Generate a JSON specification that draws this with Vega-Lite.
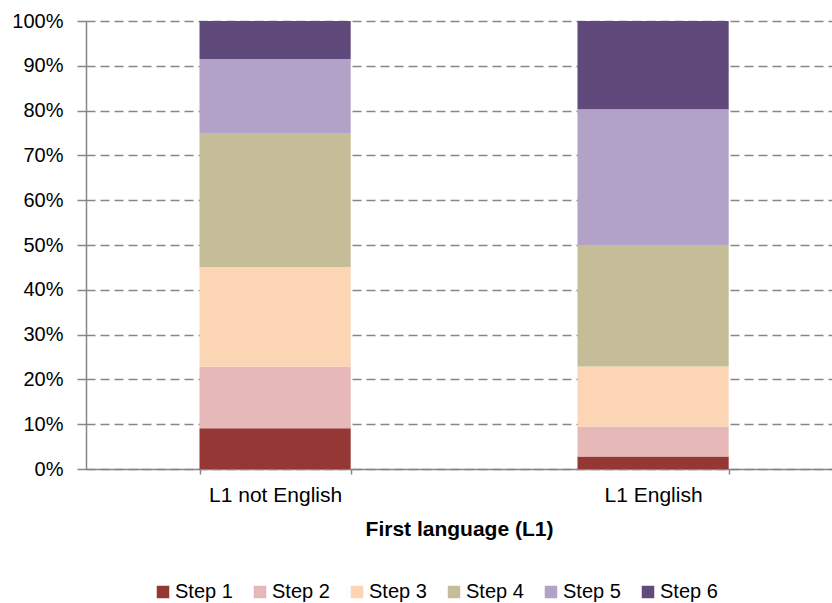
{
  "$schema": "https://vega.github.io/schema/vega-lite/v6.json",
  "autosize": "none",
  "padding": {"left": 86, "top": 21, "right": 0, "bottom": 134},
  "width": 746,
  "height": 448,
  "background": "white",
  "config": {
    "view": {"stroke": null},
    "font": "Liberation Sans",
    "axis": {"labelFont": "Liberation Sans", "titleFont": "Liberation Sans", "labelColor": "#000", "titleColor": "#000"}
  },
  "data": {
    "values": [
      {"language": "L1 not English", "Step": "Step 1", "pct": 9.1},
      {"language": "L1 not English", "Step": "Step 2", "pct": 13.7},
      {"language": "L1 not English", "Step": "Step 3", "pct": 22.3},
      {"language": "L1 not English", "Step": "Step 4", "pct": 29.9},
      {"language": "L1 not English", "Step": "Step 5", "pct": 16.5},
      {"language": "L1 not English", "Step": "Step 6", "pct": 8.5},
      {"language": "L1 English", "Step": "Step 1", "pct": 2.8},
      {"language": "L1 English", "Step": "Step 2", "pct": 6.7},
      {"language": "L1 English", "Step": "Step 3", "pct": 13.4},
      {"language": "L1 English", "Step": "Step 4", "pct": 27.1},
      {"language": "L1 English", "Step": "Step 5", "pct": 30.3},
      {"language": "L1 English", "Step": "Step 6", "pct": 19.7}
    ]
  },
  "mark": {"type": "bar"},
  "encoding": {
    "x": {
      "field": "language",
      "type": "nominal",
      "sort": ["L1 not English", "L1 English"],
      "scale": {"paddingInner": 0.6, "paddingOuter": 0.2868, "align": 0.5235},
      "axis": {
        "title": "First language (L1)",
        "titleFontSize": 21,
        "titleFontWeight": "bold",
        "titlePadding": 13,
        "labelFontSize": 21,
        "labelAngle": 0,
        "labelPadding": 10,
        "tickBand": "extent",
        "tickSize": 5,
        "tickColor": "#868686",
        "tickWidth": 1.5,
        "domainColor": "#868686",
        "domainWidth": 1.5,
        "grid": false
      }
    },
    "y": {
      "field": "pct",
      "type": "quantitative",
      "stack": "normalize",
      "scale": {"domain": [0, 1], "nice": false},
      "axis": {
        "title": null,
        "format": ".0%",
        "values": [0, 0.1, 0.2, 0.3, 0.4, 0.5, 0.6, 0.7, 0.8, 0.9, 1],
        "labelFontSize": 20,
        "labelPadding": 14,
        "tickSize": 9,
        "tickColor": "#868686",
        "tickWidth": 1.5,
        "domainColor": "#868686",
        "domainWidth": 1.5,
        "grid": true,
        "gridColor": "#868686",
        "gridWidth": 1.5,
        "gridDash": [9, 5]
      }
    },
    "order": {"field": "Step", "sort": "ascending"},
    "color": {
      "field": "Step",
      "type": "nominal",
      "scale": {
        "domain": ["Step 1", "Step 2", "Step 3", "Step 4", "Step 5", "Step 6"],
        "range": ["#953735", "#E6B9B8", "#FCD5B5", "#C4BD97", "#B3A2C7", "#604A7B"]
      },
      "legend": {
        "title": null,
        "orient": "none",
        "direction": "horizontal",
        "legendX": 67,
        "legendY": 561,
        "symbolType": "square",
        "symbolSize": 156,
        "symbolStrokeWidth": 0,
        "labelFontSize": 20,
        "labelColor": "#000",
        "labelFont": "Liberation Sans",
        "labelOffset": 2,
        "columnPadding": 17
      }
    }
  }
}
